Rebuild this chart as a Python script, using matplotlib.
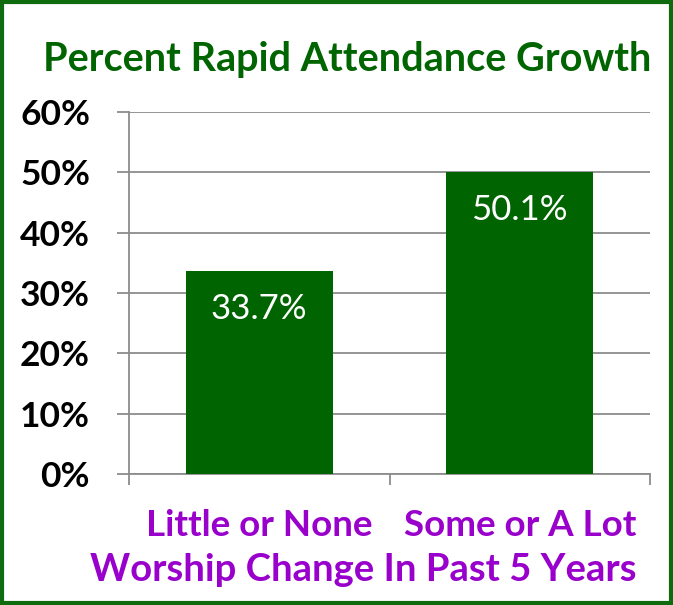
import matplotlib
matplotlib.use("Agg")
import matplotlib.pyplot as plt
from matplotlib.patches import Rectangle

plt.rcParams['font.family'] = ['Lato', 'DejaVu Sans']

categories = ['Little or None', 'Some or A Lot']
values = [33.7, 50.1]
yticks = [0, 10, 20, 30, 40, 50, 60]

green = '#006400'
purple = '#9900CC'
grey = '#8c8c8c'

W, H = 673, 605
fig = plt.figure(figsize=(W / 100, H / 100), dpi=100)

# axes in pixel coordinates of the reference
x0, x1, ytop, ybot = 129, 650, 112, 474
ax = fig.add_axes([x0 / W, (H - ybot) / H, (x1 - x0) / W, (ybot - ytop) / H])

xs = range(len(categories))
bars = ax.bar(xs, values, width=0.565, color=green, zorder=3)
for x, v in zip(xs, values):
    ax.text(x, v - 6.3, '%.1f%%' % v, ha='center', va='center', color='white',
            fontsize=25)

ax.set_xlim(-0.5, 1.5)
ax.set_ylim(0, 60)
ax.set_yticks(yticks)
ax.set_yticklabels(['%d%%' % t for t in yticks], fontsize=25.5, fontweight='bold')
ax.yaxis.grid(True, color=grey, linewidth=1.3, zorder=0)
ax.tick_params(axis='y', length=9, width=1.3, color=grey, pad=19)
ax.set_xticks([-0.5, 0.5, 1.5])
ax.set_xticklabels([])
ax.tick_params(axis='x', length=8, width=1.3, color=grey, direction='out')
for s in ['top', 'right']:
    ax.spines[s].set_visible(False)
for s in ['left', 'bottom']:
    ax.spines[s].set_color(grey)
    ax.spines[s].set_linewidth(1.3)

for x, c in zip(xs, categories):
    ax.text(x, -8.5, c, ha='center', va='center', color=purple, fontsize=26.5,
            fontweight='bold', transform=ax.transData, clip_on=False)

fig.text(363 / W, 1 - 570 / H, 'Worship Change In Past 5 Years', ha='center',
         va='center', color=purple, fontsize=27.5, fontweight='bold')
fig.text(347 / W, 1 - 60 / H, 'Percent Rapid Attendance Growth', ha='center',
         va='center', color=green, fontsize=28.5, fontweight='bold')

fig.patches.append(Rectangle((2 / W, 2 / H), 1 - 4 / W, 1 - 4 / H,
                             transform=fig.transFigure, fill=False,
                             edgecolor='#0e6b0e', linewidth=3))

fig.savefig('out.png', dpi=100)
